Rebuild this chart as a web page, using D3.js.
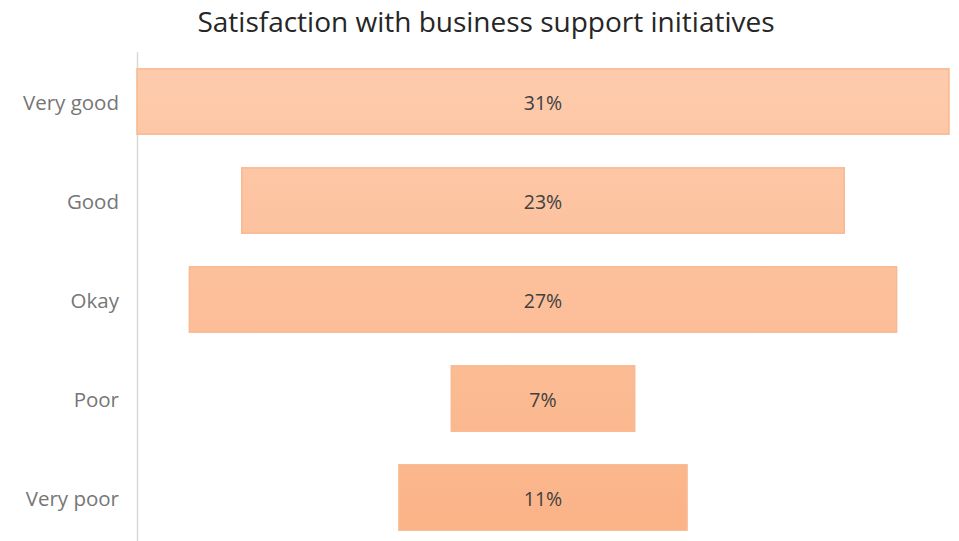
<!DOCTYPE html>
<html>
<head>
<meta charset="utf-8">
<script src="https://cdn.jsdelivr.net/npm/d3@7"></script>
<style>
  html, body { margin: 0; padding: 0; background: #ffffff; }
  svg { display: block; }
</style>
</head>
<body>
<svg id="chart" width="959" height="541"></svg>
<script>
// Funnel: share of respondents by satisfaction level
const categories = ["Very good", "Good", "Okay", "Poor", "Very poor"];
const values = [31, 23, 27, 7, 11];
const valueLabels = ["31%", "23%", "27%", "7%", "11%"];
const chartTitle = "Satisfaction with business support initiatives";

const svg = d3.select("#chart");
const W = 959, H = 541;
const axisX = 137;
const centerX = 543;

const y = d3.scaleBand()
  .domain(categories)
  .range([52, 547])
  .paddingInner(0.34)
  .paddingOuter(0.17);

const w = d3.scaleLinear()
  .domain([0, d3.max(values)])
  .range([0, 812]);

// vertical shading across the whole plot
const defs = svg.append("defs");
const grad = defs.append("linearGradient")
  .attr("id", "barFill")
  .attr("gradientUnits", "userSpaceOnUse")
  .attr("x1", 0).attr("x2", 0)
  .attr("y1", 69).attr("y2", 530);
grad.append("stop").attr("offset", "0%").attr("stop-color", "#fdcbac");
grad.append("stop").attr("offset", "100%").attr("stop-color", "#fbb387");

// title
svg.append("text")
  .attr("x", 486)
  .attr("y", 32)
  .attr("text-anchor", "middle")
  .attr("font-family", "'Open Sans', sans-serif")
  .attr("font-size", 28)
  .attr("fill", "#262626")
  .text(chartTitle);

// category axis line
svg.append("line")
  .attr("x1", axisX + 0.5).attr("x2", axisX + 0.5)
  .attr("y1", 52).attr("y2", H)
  .attr("stroke", "#d9d9d9")
  .attr("stroke-width", 1.5);

const data = categories.map((c, i) => ({ cat: c, value: values[i], label: valueLabels[i] }));

// bars centred on a common axis
svg.append("g").selectAll("rect")
  .data(data)
  .join("rect")
  .attr("x", d => centerX - w(d.value) / 2)
  .attr("y", d => y(d.cat))
  .attr("width", d => w(d.value))
  .attr("height", y.bandwidth())
  .attr("fill", "url(#barFill)")
  .attr("stroke", "#f8b990")
  .attr("stroke-width", 1.5);

// value labels
svg.append("g").selectAll("text")
  .data(data)
  .join("text")
  .attr("x", centerX)
  .attr("y", d => y(d.cat) + y.bandwidth() / 2)
  .attr("dy", "0.42em")
  .attr("text-anchor", "middle")
  .attr("font-family", "'Open Sans', sans-serif")
  .attr("font-size", 19.5)
  .attr("fill", "#404040")
  .text(d => d.label);

// category labels
svg.append("g").selectAll("text")
  .data(data)
  .join("text")
  .attr("x", 119)
  .attr("y", d => y(d.cat) + y.bandwidth() / 2)
  .attr("dy", "0.42em")
  .attr("text-anchor", "end")
  .attr("font-family", "'Open Sans', sans-serif")
  .attr("font-size", 20.5)
  .attr("fill", "#767676")
  .text(d => d.cat);
</script>
</body>
</html>
